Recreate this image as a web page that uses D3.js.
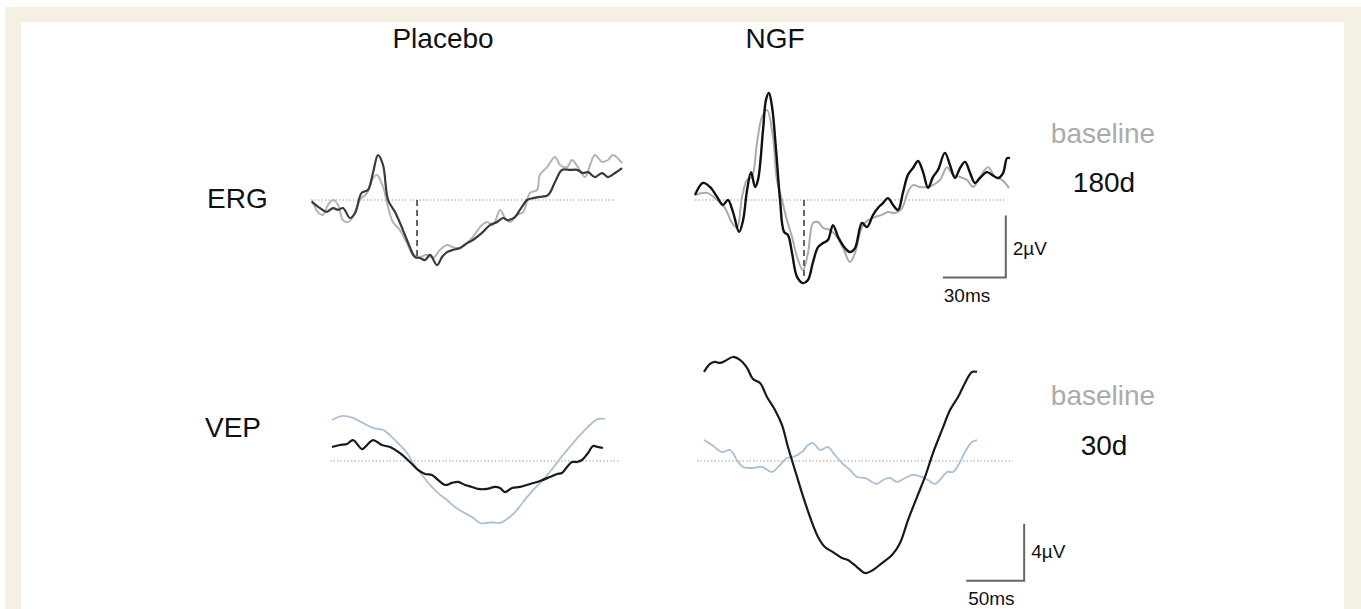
<!DOCTYPE html>
<html>
<head>
<meta charset="utf-8">
<script src="https://cdn.jsdelivr.net/npm/d3@7"></script>
<style>
  body { margin: 0; background: #fff; }
  text { font-family: "Liberation Sans", Arial, sans-serif; }
</style>
</head>
<body>
<svg id="Target" width="1361" height="609"></svg>
<script>
// traces: [time (ms), amplitude (µV)]
const ergPlaceboBaseline = [[0.5,0],[3.3,-0.39],[5.7,-0.48],[8.1,-0.16],[10.5,0],[12.9,-0.16],[15.2,-0.65],[17.6,-0.71],[20,-0.55],[23.3,0],[26.7,0.23],[29,0.65],[31.4,0.81],[34.3,0.42],[36.7,-0.23],[39,-0.71],[42.4,-0.97],[45.7,-1.39],[48.6,-1.77],[51.9,-1.84],[55.2,-1.77],[58.1,-1.87],[61.4,-1.61],[64.8,-1.45],[67.6,-1.52],[71,-1.55],[74.3,-1.39],[77.1,-1.19],[81.4,-0.81],[83.8,-0.71],[86.7,-0.81],[90,-0.32],[92.4,-0.58],[94.8,-0.71],[98.1,-0.48],[101,-0.39],[104.3,0.23],[107.6,0.32],[109,0.81],[112.4,1.06],[116.2,1.39],[118.6,1.13],[121.9,1.06],[124.3,1.29],[127.1,1.06],[130.5,0.74],[132.9,1.13],[135.2,1.45],[138.6,1.23],[141.4,1.29],[143.8,1.45],[148.1,1.19]];
const ergPlacebo180 = [[0.3,-0.05],[4.3,-0.26],[7.5,-0.38],[10.5,-0.26],[12.9,-0.32],[15.2,-0.26],[18.6,-0.58],[21,-0.42],[24.1,0.23],[27.1,0.32],[29.5,0.87],[31.9,1.45],[34.3,1.13],[36.7,0],[40,-0.39],[43.8,-0.97],[47.1,-1.52],[49.5,-1.84],[51.9,-1.87],[54.3,-1.94],[56.7,-1.77],[60,-2.1],[62.4,-1.84],[64.8,-1.68],[67.6,-1.61],[71,-1.55],[74.3,-1.39],[77.1,-1.29],[81.4,-1.06],[85.2,-0.81],[88.6,-0.71],[91.4,-0.58],[93.8,-0.65],[97.1,-0.55],[99.5,-0.32],[102.9,0],[105.7,0.06],[109,0.1],[112.9,0.16],[116.2,0.58],[119.5,0.97],[123.3,0.97],[126.7,0.97],[129.5,0.87],[131.9,0.9],[135.2,0.74],[138.6,0.87],[141.4,0.74],[144.8,0.87],[148.1,1.03]];

const ergNgfBaseline = [[0,0.16],[5.7,0.23],[10.5,0],[14.3,-0.26],[17.6,-0.74],[20,-0.9],[22.4,0.1],[24.8,0.65],[27.1,0.74],[29.5,1.84],[31.9,2.68],[34.3,2.9],[37.1,2.03],[39,0.65],[41.4,0],[43.8,-0.65],[46.2,-1.19],[48.6,-1.84],[51.4,-2.26],[53.8,-1.71],[56.2,-0.74],[58.6,-0.71],[61,-0.9],[64.3,-0.97],[67.6,-1.19],[70.5,-1.55],[73.8,-2.0],[76.2,-1.71],[79.5,-0.87],[82.4,-0.65],[85.7,-0.55],[89,-0.48],[91.9,-0.39],[95.2,-0.42],[98.6,-0.26],[101.4,0.26],[103.8,0.48],[107.1,0.42],[110.5,0.42],[113.3,0.48],[116.7,0.65],[120,1.06],[122.9,0.81],[126.2,0.74],[129.5,0.65],[132.4,0.42],[135.7,0.74],[139.5,1.06],[142.9,0.74],[146.2,0.65],[149.5,0.39]];
const ergNgf180 = [[0,0.16],[3.8,0.55],[7.1,0.42],[10.5,0.1],[13.3,-0.16],[15.7,0],[18.1,-0.39],[21,-1.03],[22.9,-0.65],[24.8,0.32],[26.7,0.9],[28.6,0.42],[30,0.65],[32.4,2.26],[33.8,3.23],[35.2,3.45],[36.7,3.0],[38.6,1.61],[40.5,0],[42.4,-1.03],[44.3,-1.13],[46.2,-1.71],[48.6,-2.48],[51.4,-2.68],[53.8,-2.58],[56.2,-2.0],[58.6,-1.52],[61,-1.39],[63.3,-1.29],[65.7,-0.81],[68.1,-1.19],[71.4,-1.55],[73.8,-1.68],[76.2,-1.55],[79.5,-0.74],[81.9,-0.87],[84.8,-0.48],[87.1,-0.26],[89.5,-0.1],[91.9,0.06],[94.3,-0.16],[96.7,-0.32],[99,0.23],[101.4,0.81],[103.8,1.03],[106.2,1.26],[108.6,0.9],[111,0.39],[113.3,0.74],[115.7,0.97],[119,1.52],[121.4,1.13],[123.8,0.71],[126.2,1.03],[128.6,1.23],[131,0.87],[133.3,0.55],[135.7,0.71],[139,0.9],[141.4,0.81],[144.3,0.71],[146.7,0.87],[148.6,1.35],[150,1.35]];

const vepPlaceboBaseline = [[0,2.88],[9.5,3.16],[18.1,3.02],[26.7,2.67],[35.3,2.32],[44,2.18],[51.7,1.68],[58.6,1.12],[64.7,0.56],[69.8,-0.14],[77.6,-0.98],[84.5,-1.68],[91.4,-2.25],[99.1,-2.74],[106,-3.23],[112.9,-3.58],[120.7,-3.93],[127.6,-4.35],[133.6,-4.35],[137.9,-4.3],[144.8,-4.35],[150.9,-4.07],[157.8,-3.58],[164.7,-2.88],[173.3,-2.04],[181.9,-1.33],[190.5,-0.49],[199.1,0.42],[207.8,1.26],[216.4,2.04],[224.1,2.67],[229.3,2.95],[235.3,2.95]];
const vepPlacebo30 = [[0,0.98],[6.9,1.12],[12.9,1.19],[18.1,1.47],[25.9,0.84],[30.2,1.12],[35.3,1.47],[43.1,1.12],[50,0.98],[58.6,0.56],[67.2,-0.07],[74.1,-0.63],[80.2,-0.91],[86.2,-0.98],[91.4,-1.33],[97.4,-1.68],[103.4,-1.54],[108.6,-1.47],[114.7,-1.68],[120.7,-1.82],[125.9,-1.96],[133.6,-1.96],[140.5,-1.82],[144.8,-1.89],[149.1,-2.18],[155.2,-1.89],[162.1,-1.82],[170.7,-1.61],[179.3,-1.4],[187.9,-1.12],[194,-0.91],[198.3,-0.84],[202.6,-0.42],[206.9,-0.07],[211.2,-0.07],[215.5,0.07],[220.7,0.56],[225,1.05],[229.3,0.98],[233.6,0.91]];

const vepNgfBaseline = [[0,1.47],[6.9,1.12],[15.5,0.63],[22.4,0.77],[28.4,0.07],[33.6,-0.42],[41.4,-0.49],[50,-0.42],[58.6,-0.77],[65.5,-0.28],[71.6,0.21],[76.7,0.28],[84.5,0.63],[89.7,1.12],[94,1.26],[100,0.77],[106.9,0.98],[112.9,0.42],[119,-0.14],[125.9,-0.63],[131.9,-1.12],[138.8,-1.19],[144.8,-1.47],[149.1,-1.61],[154.3,-1.33],[160.3,-1.19],[166.4,-1.47],[173.3,-1.19],[180.2,-0.98],[187.9,-1.12],[193.1,-1.33],[199.1,-1.61],[203.4,-1.33],[209.5,-0.77],[214.7,-0.77],[220.7,-0.07],[225,0.63],[231,1.33],[235.3,1.47]];
const vepNgf30 = [[0,6.25],[5.2,6.81],[9.5,6.95],[13.8,6.88],[18.1,7.02],[25,7.3],[31,7.09],[37.1,6.53],[42.2,5.75],[48.3,5.47],[54.3,4.49],[61.2,3.58],[67.2,2.53],[72.4,0.98],[78.4,-0.63],[84.5,-2.25],[91.4,-3.93],[98.3,-5.33],[104.3,-6.04],[111.2,-6.39],[119,-6.81],[124.1,-6.95],[131.9,-7.44],[138.8,-7.86],[145.7,-7.65],[153.4,-7.16],[162.1,-6.6],[169,-5.75],[175.9,-4.14],[183.6,-2.53],[190.5,-1.12],[197.4,0.56],[205.2,2.18],[212.1,3.58],[219,4.49],[225,5.47],[231,6.25],[235.3,6.25]];

const columnLabels = ["Placebo", "NGF"];
const rowLabels = ["ERG", "VEP"];
const timepointLabels = ["180d", "30d"];
const legendLabel = "baseline";
const ergTroughs = [[50.5, -1.87], [51.9, -2.58]];   // dashed markers
const ergBar = { ms: 30, uv: 2, at: [148, -2.5] };
const vepBar = { ms: 50, uv: 4, at: [276, -8.4] };

const svg = d3.select("#Target");

// page frame
svg.append("rect").attr("x", 5).attr("y", 7).attr("width", 1356).attr("height", 602).attr("fill", "#f4f1e3");
svg.append("rect").attr("x", 21).attr("y", 22).attr("width", 1323).attr("height", 587).attr("fill", "#fff");

// scales, one per panel
const ergY = d3.scaleLinear().domain([-3, 4]).range([293, 76]);
const vepY = d3.scaleLinear().domain([-8, 8]).range([575, 347]);
const ergXPlacebo = d3.scaleLinear().domain([0, 150]).range([311, 311 + 150 * 2.1]);
const ergXNgf = d3.scaleLinear().domain([0, 150]).range([695, 695 + 150 * 2.1]);
const vepXPlacebo = d3.scaleLinear().domain([0, 240]).range([332, 332 + 240 * 1.16]);
const vepXNgf = d3.scaleLinear().domain([0, 240]).range([704, 704 + 240 * 1.16]);

function drawZero(x, y, t0, t1) {
    svg.append("line")
        .attr("x1", x(t0)).attr("x2", x(t1))
        .attr("y1", y(0)).attr("y2", y(0))
        .attr("stroke", "#9a9a9a")
        .attr("stroke-width", 1.2)
        .attr("stroke-dasharray", "1.5,2");
}

function drawTrace(data, x, y, color, width) {
    const line = d3.line()
        .x(d => x(d[0]))
        .y(d => y(d[1]))
        .curve(d3.curveCatmullRom.alpha(0.5));
    svg.append("path")
        .datum(data)
        .attr("d", line)
        .attr("fill", "none")
        .attr("stroke", color)
        .attr("stroke-width", width)
        .attr("stroke-linejoin", "round");
}

function drawTrough(p, x, y) {
    svg.append("line")
        .attr("x1", x(p[0])).attr("x2", x(p[0]))
        .attr("y1", y(0)).attr("y2", y(p[1]))
        .attr("stroke", "#555")
        .attr("stroke-width", 1.8)
        .attr("stroke-dasharray", "6,4");
}

function drawBar(bar, x, y, msLabel, uvLabel, msDx, uvDy) {
    const cx = x(bar.at[0]), cy = y(bar.at[1]);
    const x0 = x(bar.at[0] - bar.ms), y1 = y(bar.at[1] + bar.uv);
    svg.append("path")
        .attr("d", `M${x0},${cy}H${cx}V${y1}`)
        .attr("fill", "none")
        .attr("stroke", "#666")
        .attr("stroke-width", 2);
    svg.append("text")
        .attr("x", x0 + msDx).attr("y", cy + 24)
        .attr("font-size", 19)
        .attr("fill", "#111")
        .text(msLabel);
    svg.append("text")
        .attr("x", cx + 7).attr("y", (cy + y1) / 2 + uvDy)
        .attr("font-size", 19)
        .attr("fill", "#111")
        .text(uvLabel);
}

// ERG row
drawZero(ergXPlacebo, ergY, 0, 145);
drawZero(ergXNgf, ergY, 0, 147.6);
drawTrace(ergPlaceboBaseline, ergXPlacebo, ergY, "#b3b3b3", 2);
drawTrace(ergPlacebo180, ergXPlacebo, ergY, "#3a3a3a", 2.2);
drawTrough(ergTroughs[0], ergXPlacebo, ergY);
drawTrace(ergNgfBaseline, ergXNgf, ergY, "#ababab", 2);
drawTrace(ergNgf180, ergXNgf, ergY, "#111", 2.4);
drawTrough(ergTroughs[1], ergXNgf, ergY);
drawBar(ergBar, ergXNgf, ergY, "30ms", "2\u00b5V", 1, 8);

// VEP row
drawZero(vepXPlacebo, vepY, -1.7, 248);
drawZero(vepXNgf, vepY, -6, 266);
drawTrace(vepPlaceboBaseline, vepXPlacebo, vepY, "#a9bfd6", 1.8);
drawTrace(vepPlacebo30, vepXPlacebo, vepY, "#1a1a1a", 2.2);
drawTrace(vepNgfBaseline, vepXNgf, vepY, "#a9bfd6", 1.8);
drawTrace(vepNgf30, vepXNgf, vepY, "#1a1a1a", 2.2);
drawBar(vepBar, vepXNgf, vepY, "50ms", "4\u00b5V", 2, 6);

// labels
const big = 28;
svg.selectAll("text.col")
    .data(columnLabels)
    .enter()
    .append("text")
    .attr("class", "col")
    .attr("x", (d, i) => [443, 775][i])
    .attr("y", 48)
    .attr("text-anchor", "middle")
    .attr("font-size", big)
    .attr("fill", "#111")
    .text(d => d);

svg.selectAll("text.row")
    .data(rowLabels)
    .enter()
    .append("text")
    .attr("class", "row")
    .attr("x", (d, i) => [207, 205][i])
    .attr("y", (d, i) => [208, 437][i])
    .attr("font-size", big)
    .attr("fill", "#111")
    .text(d => d);

[143, 405].forEach(y => {
    svg.append("text")
        .attr("x", 1103).attr("y", y)
        .attr("text-anchor", "middle")
        .attr("font-size", big)
        .attr("fill", "#ababab")
        .text(legendLabel);
});

svg.selectAll("text.tp")
    .data(timepointLabels)
    .enter()
    .append("text")
    .attr("class", "tp")
    .attr("x", 1104)
    .attr("y", (d, i) => [192, 455][i])
    .attr("text-anchor", "middle")
    .attr("font-size", big)
    .attr("fill", "#111")
    .text(d => d);
</script>
</body>
</html>
